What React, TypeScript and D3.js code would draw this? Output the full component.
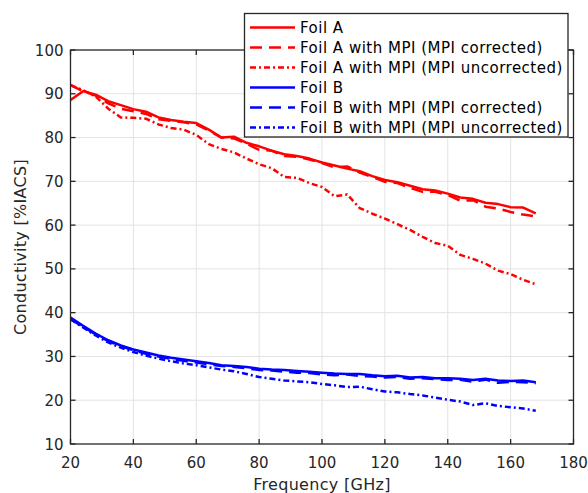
import React from "react";
import * as d3 from "d3";

// frequency in GHz
const freq = [20, 24, 28, 32, 36, 40, 44, 48, 52, 56, 60, 64, 68, 72, 76, 80, 84, 88, 92, 96, 100, 104, 108, 112, 116, 120, 124, 128, 132, 136, 140, 144, 148, 152, 156, 160, 164, 168];

const foilA = [88.6, 90.6, 89.8, 88.3, 87.4, 86.5, 85.9, 84.6, 84.0, 83.6, 83.3, 81.8, 80.0, 80.2, 78.8, 78.0, 77.0, 76.2, 75.8, 75.2, 74.3, 73.6, 72.9, 72.3, 71.2, 70.3, 69.8, 69.0, 68.2, 67.9, 67.2, 66.3, 66.0, 65.1, 64.8, 64.1, 64.0, 62.7];
const foilAcorr = [92.0, 90.6, 89.6, 87.8, 86.6, 86.0, 85.4, 84.2, 83.8, 83.5, 83.0, 81.6, 80.0, 79.8, 78.6, 77.2, 77.0, 75.8, 75.6, 75.0, 74.2, 73.2, 73.4, 72.0, 71.0, 69.9, 69.6, 68.5, 67.6, 67.6, 66.9, 65.6, 65.7, 64.2, 63.8, 63.0, 62.4, 62.0];
const foilAuncorr = [92.0, 90.8, 89.4, 86.6, 84.6, 84.5, 84.3, 83.0, 82.2, 81.8, 80.6, 78.5, 77.4, 76.6, 75.2, 73.9, 73.0, 71.0, 70.8, 69.6, 68.7, 66.6, 67.0, 63.9, 62.6, 61.5, 60.2, 58.9, 57.3, 55.9, 55.3, 53.2, 52.3, 51.2, 49.6, 48.8, 47.5, 46.5];
const foilB = [38.9, 37.0, 35.2, 33.7, 32.5, 31.6, 30.9, 30.2, 29.7, 29.3, 28.9, 28.5, 28.0, 27.8, 27.6, 27.2, 27.0, 26.9, 26.7, 26.5, 26.3, 26.1, 26.0, 26.0, 25.7, 25.5, 25.6, 25.2, 25.3, 25.0, 25.0, 24.9, 24.6, 24.9, 24.5, 24.4, 24.5, 24.1];
const foilBcorr = [38.5, 36.8, 35.0, 33.5, 32.3, 31.4, 30.6, 30.0, 29.4, 29.0, 28.6, 28.2, 27.8, 27.6, 27.3, 26.9, 26.8, 26.5, 26.3, 26.2, 25.9, 25.7, 25.9, 25.5, 25.4, 25.2, 25.3, 24.9, 25.0, 24.8, 24.6, 24.7, 24.2, 24.7, 24.0, 24.2, 24.1, 23.9];
const foilBuncorr = [38.5, 36.6, 34.8, 33.2, 32.0, 31.0, 30.2, 29.5, 28.9, 28.4, 28.0, 27.5, 27.0, 26.6, 26.0, 25.3, 24.9, 24.5, 24.3, 24.1, 23.7, 23.4, 23.0, 23.1, 22.5, 22.0, 21.8, 21.4, 21.1, 20.6, 20.1, 19.7, 18.9, 19.3, 18.7, 18.4, 18.1, 17.6];

const xTicks = [20, 40, 60, 80, 100, 120, 140, 160, 180];
const yTicks = [10, 20, 30, 40, 50, 60, 70, 80, 90, 100];

const seriesNames = [
  "Foil A",
  "Foil A with MPI (MPI corrected)",
  "Foil A with MPI (MPI uncorrected)",
  "Foil B",
  "Foil B with MPI (MPI corrected)",
  "Foil B with MPI (MPI uncorrected)",
];

const DASH_SOLID = "none";
const DASH_DASH = "12,7";
const DASH_DOT = "6,3,2,3";

const series = [
  { name: seriesNames[0], values: foilA, color: "#ff0000", dash: DASH_SOLID },
  { name: seriesNames[1], values: foilAcorr, color: "#ff0000", dash: DASH_DASH },
  { name: seriesNames[2], values: foilAuncorr, color: "#ff0000", dash: DASH_DOT },
  { name: seriesNames[3], values: foilB, color: "#0000ff", dash: DASH_SOLID },
  { name: seriesNames[4], values: foilBcorr, color: "#0000ff", dash: DASH_DASH },
  { name: seriesNames[5], values: foilBuncorr, color: "#0000ff", dash: DASH_DOT },
];

const W = 588;
const H = 493;
const left = 70.5, right = 573.5, top = 50, bottom = 444;
const AX = "#262626";
const FONT = "'DejaVu Sans', sans-serif";

export default function App() {
  const x = d3.scaleLinear().domain([20, 180]).range([left, right]);
  const y = d3.scaleLinear().domain([10, 100]).range([bottom, top]);
  const line = d3
    .line<number>()
    .x((_, i) => x(freq[i]))
    .y((d) => y(d));

  const legX = 244.5, legY = 13.5, legW = 323.5, legH = 123.5;
  const rowH = 20;

  return (
    <svg
      width={W}
      height={H}
      style={{ position: "absolute", left: 0, top: 0, background: "#fff" }}
      fontFamily={FONT}
    >
      {/* grid */}
      <g stroke="#e3e3e3" strokeWidth={1}>
        {xTicks.slice(1, -1).map((t) => (
          <line key={"gx" + t} x1={x(t)} x2={x(t)} y1={top} y2={bottom} />
        ))}
        {yTicks.slice(1, -1).map((t) => (
          <line key={"gy" + t} x1={left} x2={right} y1={y(t)} y2={y(t)} />
        ))}
      </g>

      {/* data */}
      <g fill="none" strokeWidth={2.5} strokeLinejoin="round">
        {series.map((s) => (
          <path
            key={s.name}
            d={line(s.values) || ""}
            stroke={s.color}
            strokeDasharray={s.dash}
          />
        ))}
      </g>

      {/* box + ticks */}
      <rect x={left} y={top} width={right - left} height={bottom - top} fill="none" stroke={AX} strokeWidth={1.3} />
      <g stroke={AX} strokeWidth={1.3}>
        {xTicks.map((t) => (
          <g key={"tx" + t}>
            <line x1={x(t)} x2={x(t)} y1={bottom} y2={bottom - 5} />
            <line x1={x(t)} x2={x(t)} y1={top} y2={top + 5} />
          </g>
        ))}
        {yTicks.map((t) => (
          <g key={"ty" + t}>
            <line x1={left} x2={left + 5} y1={y(t)} y2={y(t)} />
            <line x1={right} x2={right - 5} y1={y(t)} y2={y(t)} />
          </g>
        ))}
      </g>
      <g fill={AX} fontSize={15}>
        {xTicks.map((t) => (
          <text key={"lx" + t} x={x(t)} y={bottom + 24} textAnchor="middle">
            {t}
          </text>
        ))}
        {yTicks.map((t) => (
          <text key={"ly" + t} x={left - 7} y={y(t) + 5.5} textAnchor="end">
            {t}
          </text>
        ))}
      </g>
      <text x={322} y={490} textAnchor="middle" fontSize={16} fill={AX} letterSpacing={0.3}>
        Frequency [GHz]
      </text>
      <text
        transform={`translate(26, ${(top + bottom) / 2}) rotate(-90)`}
        textAnchor="middle"
        fontSize={16}
        fill={AX}
        letterSpacing={0.3}
      >
        Conductivity [%IACS]
      </text>

      {/* legend */}
      <rect x={legX} y={legY} width={legW} height={legH} fill="#fff" stroke={AX} strokeWidth={1.3} />
      {series.map((s, i) => {
        const cy = legY + 14 + i * rowH;
        return (
          <g key={"leg" + i}>
            <line x1={250} x2={295} y1={cy} y2={cy} stroke={s.color} strokeWidth={2.5} strokeDasharray={s.dash} />
            <text x={300} y={cy + 5.5} fontSize={15} fill="#000" letterSpacing={0.5}>
              {s.name}
            </text>
          </g>
        );
      })}
    </svg>
  );
}
